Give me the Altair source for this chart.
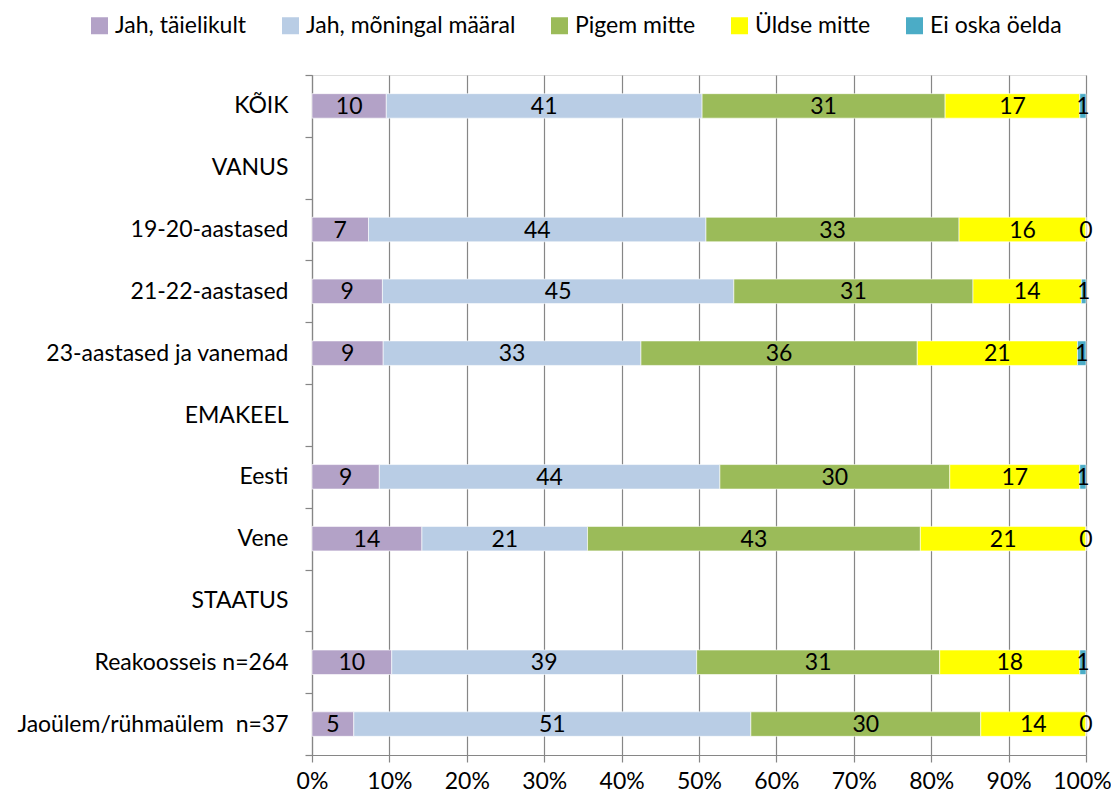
import altair as alt
import pandas as pd

# ---- data ----
categories = ["KÕIK", "VANUS", "19-20-aastased", "21-22-aastased",
              "23-aastased ja vanemad", "EMAKEEL", "Eesti", "Vene",
              "STAATUS", "Reakoosseis n=264", "Jaoülem/rühmaülem\u00a0 n=37"]

rows = ["KÕIK", "19-20-aastased", "21-22-aastased", "23-aastased ja vanemad",
        "Eesti", "Vene", "Reakoosseis n=264", "Jaoülem/rühmaülem\u00a0 n=37"]

responses = ["Jah, täielikult", "Jah, mõningal määral", "Pigem mitte",
             "Üldse mitte", "Ei oska öelda"]
colors = ["#B3A2C7", "#B9CDE5", "#9BBB59", "#FFFF00", "#4BACC6"]

jah_taielikult = [9.6, 7.3, 9.1, 9.2, 8.7, 14.2, 10.3, 5.4]
jah_moningal   = [40.8, 43.6, 45.4, 33.3, 44.0, 21.4, 39.4, 51.3]
pigem_mitte    = [31.4, 32.7, 30.9, 35.7, 29.7, 43.0, 31.4, 29.7]
uldse_mitte    = [17.4, 16.4, 14.0, 20.7, 16.8, 21.4, 18.1, 13.6]
ei_oska        = [0.8, 0.0, 0.6, 1.1, 0.8, 0.0, 0.8, 0.0]

series = [jah_taielikult, jah_moningal, pigem_mitte, uldse_mitte, ei_oska]

records = []
for i, r in enumerate(rows):
    cum = 0.0
    for j, resp in enumerate(responses):
        v = series[j][i]
        records.append({
            "cat": r, "resp": resp, "order": j,
            "start": cum / 100.0, "end": (cum + v) / 100.0,
            "mid": (cum + v / 2.0) / 100.0,
            "label": str(int(round(v))),
        })
        cum += v
df = pd.DataFrame(records)

FONT = "Lato"
FS = 23
GRAY = "#868686"

y_enc = alt.Y("cat:N", sort=categories,
              scale=alt.Scale(domain=categories, paddingInner=0, paddingOuter=0),
              axis=alt.Axis(title=None, tickBand="extent", tickSize=7, tickColor=GRAY,
                            tickWidth=1.2, domainColor=GRAY, domainWidth=1.2,
                            labelPadding=17, labelFont=FONT,
                            labelFontSize=FS, labelColor="black", labelLimit=400,
                            grid=False))

x_axis = alt.Axis(title=None, values=[i / 10 for i in range(11)], format="%",
                  grid=True, gridColor=GRAY, gridWidth=1.2, tickSize=7, tickColor=GRAY,
                  tickWidth=1.2, domainColor=GRAY, domainWidth=1.2,
                  labelFont=FONT, labelFontSize=FS,
                  labelColor="black", labelFlush=False, labelPadding=8,
                  labelOffset={"condition": {"test": "datum.value >= 1", "value": -4},
                               "value": 0})

bars = alt.Chart(df).mark_bar(size=24.5, stroke="white", strokeWidth=0.6).encode(
    x=alt.X("start:Q", scale=alt.Scale(domain=[0, 1], nice=False), axis=x_axis),
    x2="end:Q",
    y=y_enc,
    color=alt.Color("resp:N", sort=responses,
                    scale=alt.Scale(domain=responses, range=colors),
                    legend=alt.Legend(title=None, orient="none", direction="horizontal",
                                      legendX=-224, legendY=-61,
                                      symbolType="square", symbolSize=289,
                                      symbolStrokeWidth=0, symbolOpacity=1,
                                      labelFont=FONT, labelFontSize=FS,
                                      labelColor="black", labelOffset=4,
                                      columnPadding=32, padding=0, labelLimit=400)),
    order="order:Q",
)

texts = alt.Chart(df).mark_text(font=FONT, fontSize=FS, color="black",
                                baseline="middle", align="center", dy=1).encode(
    x=alt.X("mid:Q"),
    y=alt.Y("cat:N", sort=categories),
    text="label:N",
)

chart = (bars + texts).properties(
    width=774, height=680,
    autosize=alt.AutoSizeParams(type="none"),
    padding={"left": 304, "top": 67, "right": 25, "bottom": 39},
).configure_view(stroke=None).configure(background="white")

chart.save("out.html", embed_options={"renderer": "svg", "actions": False})
